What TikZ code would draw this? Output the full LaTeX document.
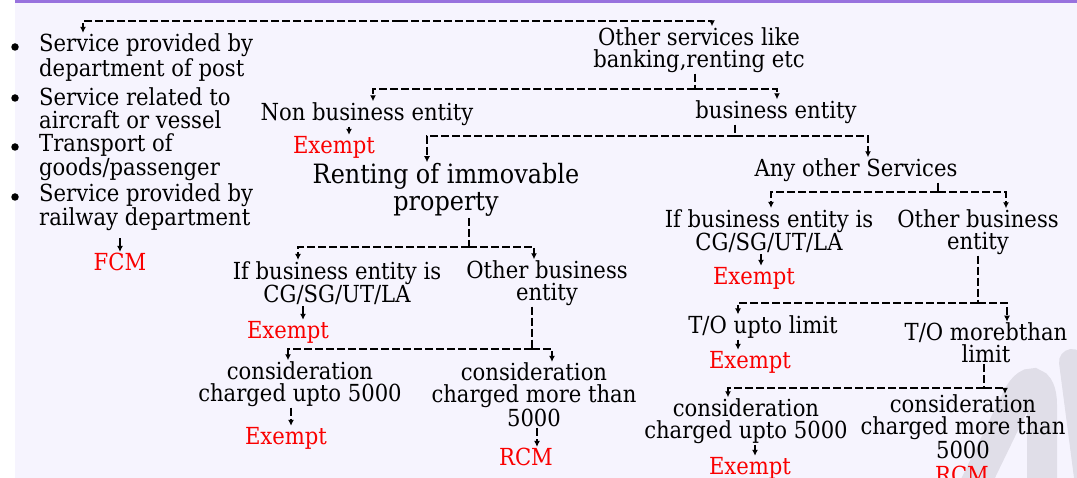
\documentclass[tikz,border=0pt]{standalone}
\usepackage{fontspec}
\setmainfont{DejaVu Serif}[FakeStretch=0.9]
\usetikzlibrary{arrows.meta}

\definecolor{bgcol}{RGB}{246,244,254}
\definecolor{topbar}{RGB}{152,114,222}
\definecolor{wmark}{RGB}{224,222,232}
\definecolor{exred}{RGB}{250,0,0}

\begin{document}
\begin{tikzpicture}[x=1pt, y=-1pt,
    box/.style={align=center, inner sep=1pt, font=\fontsize{23.5}{22}\selectfont},
    bigbox/.style={align=center, inner sep=1pt, font=\fontsize{26.6}{27}\selectfont},
    result/.style={inner sep=1pt, text=exred, font=\fontsize{23.5}{22}\selectfont},
    item/.style={align=left, anchor=west, inner sep=1pt, font=\fontsize{23.5}{22.5}\selectfont},
    dot/.style={circle, fill, inner sep=0pt, minimum size=7.5pt},
    link/.style={line width=1.6pt, dash pattern=on 8pt off 3pt},
    arr/.style={link, -{Latex[length=6pt,width=6pt]}}]

    % Background
    \useasboundingbox (0,0) rectangle (1077,478);
    \fill[bgcol] (15,0) rectangle (1077,478);
    \fill[topbar] (15,0) rectangle (1077,3);
    \draw[wmark, line width=30pt, line cap=round] (970,495) -- (1016,400) .. controls (1027,376) and (1042,378) .. (1042,405) -- (1042,495);
    \draw[wmark, line width=26pt, line cap=round] (1072,362) -- (1090,500);

    % Draw nodes
    \node[item] (item1) at (38,57.5) {Service provided by\\department of post};
    \node[item] (item2) at (38,108) {Service related to\\aircraft or vessel};
    \node[item] (item3) at (38,157.5) {Transport of\\goods/passenger};
    \node[item] (item4) at (38,207.5) {Service provided by\\railway department};
    \node[dot] (b1) at (15,47) {};
    \node[dot] (b2) at (15,98) {};
    \node[dot] (b3) at (15,147) {};
    \node[dot] (b4) at (15,197) {};
    \node[result] (fcm) at (120,262) {FCM};

    \node[box] (other) at (699,50) {Other services like\\banking,renting etc};
    \node[box] (nonbiz) at (367,114) {Non business entity};
    \node[result] (ex1) at (334,147) {Exempt};
    \node[box] (biz) at (776,112) {business entity};
    \node[bigbox] (rent) at (446,190) {Renting of immovable\\property};
    \node[box] (any) at (856,170) {Any other Services};

    \node[box] (ifL) at (337,283) {If business entity is\\CG/SG/UT/LA};
    \node[box] (othL) at (547,283) {Other business\\entity};
    \node[result] (ex2) at (288,332) {Exempt};
    \node[box] (consL) at (300,384) {consideration\\charged upto 5000};
    \node[box] (moreL) at (534,395) {consideration\\charged more than\\5000};
    \node[result] (ex3) at (286,438) {Exempt};
    \node[result] (rcmL) at (526,457) {RCM};

    \node[box] (ifR) at (769,231) {If business entity is\\CG/SG/UT/LA};
    \node[box] (othR) at (978,232) {Other business\\entity};
    \node[result] (ex4) at (754,278) {Exempt};
    \node[box] (toU) at (763,327) {T/O upto limit};
    \node[result] (ex5) at (750,362) {Exempt};
    \node[box] (toM) at (986,343) {T/O morebthan\\limit};
    \node[box] (consR) at (746,421) {consideration\\charged upto 5000};
    \node[result] (ex6) at (750,468) {Exempt};
    \node[box] (moreR) at (963,427) {consideration\\charged more than\\5000};
    \node[result] (rcmR) at (962,475) {RCM};

    % Draw connections
    \coordinate (top) at (400,21);
    \draw[arr] (top) -| ([xshift=45]item1.north west);
    \draw[arr] (top) -| ([xshift=13]other.north);
    \draw[arr, shorten <=6pt] ([xshift=82]item4.south west) -- (fcm.north);

    \coordinate (j1) at (695,89);
    \draw[link] ([xshift=-4]other.south) -- (j1);
    \draw[arr] (j1) -| ([xshift=6]nonbiz.north);
    \draw[arr] (j1) -| ([xshift=1]biz.north);
    \draw[arr] ([xshift=-18]nonbiz.south) -- ([xshift=15]ex1.north);

    \coordinate (j2) at (735,136);
    \draw[link] ([xshift=-41]biz.south) -- (j2);
    \draw[arr] (j2) -| ([xshift=-19]rent.north);
    \draw[arr] (j2) -| ([xshift=12]any.north);

    \coordinate (j3) at (469,247);
    \draw[link] ([xshift=23]rent.south) -- (j3);
    \draw[arr] (j3) -| ([xshift=-39]ifL.north);
    \draw[arr] (j3) -| ([xshift=-13]othL.north);
    \draw[arr] ([xshift=-34]ifL.south) -- ([xshift=15]ex2.north);

    \coordinate (j4) at (532,349);
    \draw[link] ([xshift=-15]othL.south) -- (j4);
    \draw[arr] (j4) -| ([xshift=-12]consL.north);
    \draw[arr] (j4) -| ([xshift=18]moreL.north);
    \draw[arr] ([xshift=-9]consL.south) -- ([xshift=5]ex3.north);
    \draw[arr] ([xshift=3]moreL.south) -- ([xshift=11]rcmL.north);

    \coordinate (j5) at (938,192);
    \draw[link] ([xshift=82]any.south) -- (j5);
    \draw[arr] (j5) -| ([xshift=2]ifR.north);
    \draw[arr] (j5) -| ([xshift=28]othR.north);
    \draw[arr] ([xshift=-8]ifR.south) -- ([xshift=7]ex4.north);

    \coordinate (j6) at (978,303);
    \draw[link] (othR.south) -- (j6);
    \draw[arr] (j6) -| ([xshift=-25]toU.north);
    \draw[arr] (j6) -| ([xshift=21]toM.north);
    \draw[arr] ([xshift=-25]toU.south) -- ([xshift=-12]ex5.north);

    \coordinate (j7) at (984,388);
    \draw[link] ([xshift=-2]toM.south) -- (j7);
    \draw[arr] (j7) -| ([xshift=-18]consR.north);
    \draw[arr] (j7) -| ([xshift=42]moreR.north);
    \draw[arr] ([xshift=9]consR.south) -- ([xshift=5]ex6.north);
\end{tikzpicture}
\end{document}
